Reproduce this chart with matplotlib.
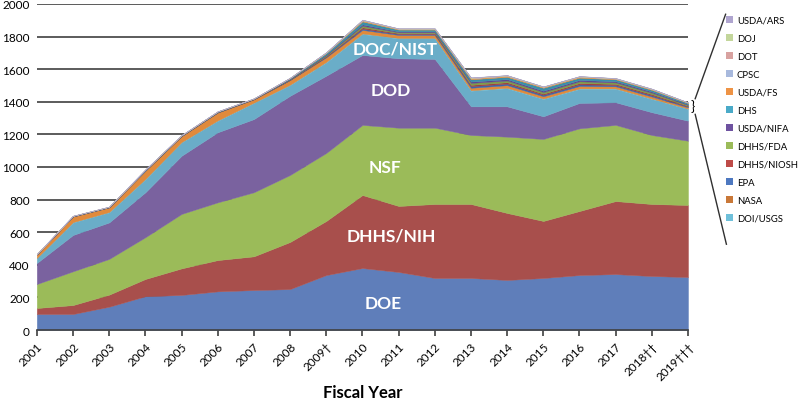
import numpy as np
import matplotlib.pyplot as plt
from matplotlib.patches import Patch
from matplotlib.lines import Line2D

# 财年
years = ['2001', '2002', '2003', '2004', '2005', '2006', '2007', '2008', '2009\u2020',
         '2010', '2011', '2012', '2013', '2014', '2015', '2016', '2017',
         '2018\u2020\u2020', '2019\u2020\u2020\u2020']

# 主要机构（自下而上）
doe = [98, 98, 143, 207, 215, 237, 245, 251, 337, 380, 356, 319, 319, 307, 319, 337, 343, 331, 325]
dhhs_nih = [37, 55, 74, 106, 163, 192, 207, 289, 332, 448, 405, 454, 454, 411, 350, 393, 448, 442, 442]
nsf = [147, 207, 219, 256, 334, 354, 393, 411, 417, 430, 480, 468, 423, 468, 503, 507, 467, 423, 394]
dod = [129, 223, 224, 276, 357, 430, 449, 486, 474, 429, 426, 422, 176, 186, 139, 156, 139, 140, 123]
doc_nist = [29, 77, 62, 80, 82, 71, 99, 66, 82, 129, 122, 126, 96, 111, 106, 86, 82, 81, 72]

# 小机构（自下而上）
doi_usgs = [2, 2, 2, 2, 2, 2, 2, 2, 3, 3, 3, 3, 3, 3, 3, 3, 3, 3, 2]
nasa = [20, 34, 28, 50, 36, 48, 20, 28, 28, 22, 18, 18, 15, 16, 14, 15, 13, 12, 8]
epa = [1, 1, 1, 1, 1, 1, 1, 2, 4, 8, 6, 6, 10, 10, 9, 10, 8, 8, 5]
dhhs_niosh = [0.5, 0.5, 0.5, 1, 1, 1, 1, 2, 4, 8, 5, 5, 8, 8, 7, 8, 7, 7, 4]
dhhs_fda = [0.5, 1, 1, 1, 1, 1, 1, 2, 5, 10, 6, 6, 12, 11, 10, 11, 9, 9, 6]
usda_nifa = [0.5, 0.5, 0.5, 1, 1, 1, 1, 2, 4, 8, 5, 5, 8, 8, 8, 8, 7, 7, 4]
dhs = [0.5, 1, 1, 2, 1, 2, 1, 4, 9, 18, 11, 11, 14, 14, 18, 14, 12, 10, 7]
usda_fs = [0.5, 0.5, 0.5, 1, 1, 1, 0.5, 2, 3, 6, 4, 4, 6, 6, 5, 6, 4, 4, 3]
cpsc = [0.2, 0.2, 0.2, 0.3, 0.3, 0.3, 0.3, 0.5, 1, 2, 1, 1, 2, 2, 1, 1, 1, 1, 0.5]
dot = [0.2, 0.2, 0.2, 0.3, 0.3, 0.3, 0.3, 0.2, 0.5, 1, 1, 1, 1, 1, 1, 1, 1, 1, 0.5]
doj = [0.2, 0.2, 0.2, 0.3, 0.3, 0.3, 0.3, 0.2, 1, 1, 1, 1, 2, 1, 1, 1, 1, 1, 0.5]
usda_ars = [0.2, 0.2, 0.2, 0.3, 0.3, 0.3, 0.3, 0.1, 0.5, 1, 1, 1, 1, 1, 1, 1, 1, 1, 0.5]

series = [
    ('DOE', doe, '#5F7EBA'),
    ('DHHS/NIH', dhhs_nih, '#A84F4C'),
    ('NSF', nsf, '#9BBB59'),
    ('DOD', dod, '#7A629F'),
    ('DOC/NIST', doc_nist, '#6AADC8'),
    ('DOI/USGS', doi_usgs, '#70BED6'),
    ('NASA', nasa, '#E08A3C'),
    ('EPA', epa, '#3E64A8'),
    ('DHHS/NIOSH', dhhs_niosh, '#A23F3C'),
    ('DHHS/FDA', dhhs_fda, '#7E9C48'),
    ('USDA/NIFA', usda_nifa, '#5E4590'),
    ('DHS', dhs, '#3A8FA8'),
    ('USDA/FS', usda_fs, '#E8923F'),
    ('CPSC', cpsc, '#A8B9DD'),
    ('DOT', dot, '#D8A2A0'),
    ('DOJ', doj, '#C3D69B'),
    ('USDA/ARS', usda_ars, '#AFA5CF'),
]

plt.rcParams['font.family'] = ['Lato', 'DejaVu Sans']

fig = plt.figure(figsize=(8, 4.02), dpi=100)
ax = fig.add_axes([0.046, 0.1766, 0.814, 0.811])

x = np.arange(len(years))
colors = [c for _, _, c in series]
ax.stackplot(x, *[v for _, v, _ in series], colors=colors,
             edgecolor='face', linewidth=0.3, zorder=3)

ax.set_xlim(0, len(years) - 1)
ax.set_ylim(0, 2000)
ax.set_yticks(range(0, 2001, 200))
ax.yaxis.grid(True, color='#404040', linewidth=1.2, zorder=1)
ax.set_axisbelow(True)
for s in ['top', 'right', 'left']:
    ax.spines[s].set_visible(False)
ax.spines['bottom'].set_color('#404040')
ax.spines['bottom'].set_linewidth(1.2)
ax.spines['bottom'].set_zorder(4)
ax.tick_params(axis='y', length=0, labelsize=8.5, pad=5)
ax.tick_params(axis='x', length=4, width=1.2, color='#404040', labelsize=8.5)
ax.set_xticks(x)
ax.set_xticklabels(years, rotation=45, ha='right', rotation_mode='anchor')
fig.text(0.453, 0.022, 'Fiscal Year', fontsize=12, fontweight='bold',
         ha='center', va='center')

# 区域标签
labels = [('DOC/NIST', 9.9, 1724), ('DOD', 9.79, 1472), ('NSF', 9.62, 1000),
          ('DHHS/NIH', 9.79, 577), ('DOE', 9.57, 166)]
for txt, lx, ly in labels:
    ax.text(lx, ly, txt, color='white', fontsize=12.5, fontweight='bold',
            ha='center', va='center', zorder=5)

# 图例（小机构）
names = [n for n, _, _ in series[5:]][::-1]
legend_colors = {'USDA/ARS': '#AFA5CF', 'DOJ': '#C3D69B', 'DOT': '#D8A2A0', 'CPSC': '#A8B9DD',
                 'USDA/FS': '#EE9345', 'DHS': '#4AAAC8', 'USDA/NIFA': '#6E52A0',
                 'DHHS/FDA': '#9BBB59', 'DHHS/NIOSH': '#BE4B48', 'EPA': '#4D78C0',
                 'NASA': '#C97838', 'DOI/USGS': '#6FC0DA'}
handles = [Patch(facecolor=legend_colors[n], edgecolor='none') for n in names]
fig.legend(handles, names, loc='upper left', bbox_to_anchor=(0.908, 0.958),
           frameon=False, fontsize=6.8, handlelength=0.75, handleheight=0.75,
           handletextpad=0.35, labelspacing=0.95, borderaxespad=0, borderpad=0)

# 括号与连线
fig.text(0.866, 0.735, '}', fontsize=10, ha='center', va='center')
fig.add_artist(Line2D([0.869, 0.907], [0.752, 0.962], color='#303030', lw=1))
fig.add_artist(Line2D([0.869, 0.908], [0.713, 0.39], color='#303030', lw=1))

plt.savefig('out.png', dpi=100)
